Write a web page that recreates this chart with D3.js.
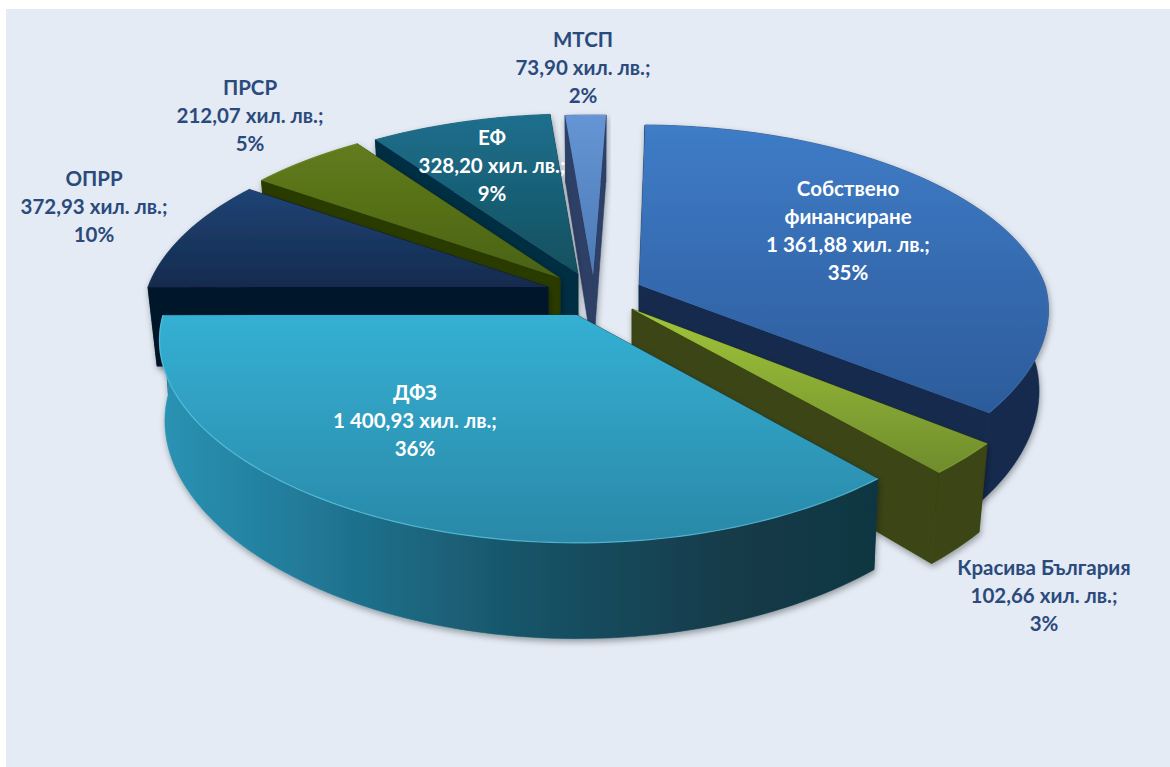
<!DOCTYPE html>
<html><head><meta charset="utf-8">
<script src="https://cdn.jsdelivr.net/npm/d3@7/dist/d3.min.js"></script>
<style>html,body{margin:0;padding:0;background:#fff}svg{display:block}</style>
</head><body><svg id="c" width="1170" height="767"></svg>
<script>
// --- data ---
const categories = ["Собствено финансиране","Красива България","ДФЗ","ОПРР","ПРСР","ЕФ","МТСП"];
const values = [1361.88,102.66,1400.93,372.93,212.07,328.20,73.90];
const percents = [35,3,36,10,5,9,2];

// --- layout / styling (separate from data) ---
const W=1170,H=767;
const labelLines = [["Собствено","финансиране"],["Красива България"],["ДФЗ"],["ОПРР"],["ПРСР"],["ЕФ"],["МТСП"]];
const labelX = [848,1044,415,94,250,492,583];
const labelY = [189,568,393,179,88,138,40];
const labelColor = ["#fff","#2b4a7c","#fff","#2b4a7c","#2b4a7c","#fff","#2b4a7c"];
const apexX = [639,632,577,548,560,578,593];
const apexY = [285,309,315,287,278,274,275];
const radiusX = [406,422,414,400,400,400,400];
const taper = [.977,.977,.987,.977,.977,.977,.977];
const startNudge = [-1.2,0,0,0,0,0,0];
const endNudge = [-2,0,0,0,0,0,0];
const topFrom = ["#3f7cc7","#a0c53a","#34b0d3","#204375","#617c1c","#1f6f8e","#6595d4"];
const topTo   = ["#2c5b9b","#6f8c2c","#2a88a8","#132b4e","#4a6213","#11505e","#4c7ab6"];
const wallCol = ["#122a4e","#3a4512","#123846","#06162a","#2c3a06","#042e42","#2d3f66"];
const rimCol  = ["#4f8bd2","#b5d654","#5fcae6","#2f5488","#7d9a2c","#2f86a6","#8ab0e0"];
const rimOpacity = [.3,.3,.7,.3,.5,.3,.3];
const drawOrder = [6,5,4,3,0,1,2];
const RY=188, P=0.175, PX_BACK=0.175, PX_FRONT=0.13, DEPTH=79;

const rad=d3.scaleLinear().domain([0,360]).range([0,2*Math.PI]);
const arcs=d3.pie().sort(null).value(d=>d).startAngle(rad(2.2)).endAngle(rad(362.2))(values);

// perspective projection of a disc onto the screen
function proj(i,theta,r,bottom){
  const u=Math.sin(theta)*r, v=-Math.cos(theta)*r, f=1/(1-P*v);
  const fx=1/(1-(v<0?PX_BACK:PX_FRONT)*v);
  const k=bottom?taper[i]:1;
  return [apexX[i]+radiusX[i]*u*fx*k, apexY[i]+(RY*v+(bottom?DEPTH:0))*f];
}
const line=d3.line();
const svg=d3.select("#c");
svg.append("rect").attr("x",6).attr("y",9).attr("width",W-6).attr("height",H-9).attr("fill","#e4ebf4");

const defs=svg.append("defs");
const fl=defs.append("filter").attr("id","sh").attr("x","-10%").attr("y","-10%").attr("width","120%").attr("height","125%");
fl.append("feDropShadow").attr("dx",1).attr("dy",3).attr("stdDeviation",3).attr("flood-color","#000").attr("flood-opacity",.35);
arcs.forEach((a,i)=>{
  const g=defs.append("linearGradient").attr("id","t"+i).attr("x1",0).attr("y1",0).attr("x2",0).attr("y2",1);
  g.append("stop").attr("offset",0).attr("stop-color",topFrom[i]);
  g.append("stop").attr("offset",1).attr("stop-color",topTo[i]);
});
const wg=defs.append("linearGradient").attr("id","wDFZ").attr("gradientUnits","userSpaceOnUse")
  .attr("x1",160).attr("y1",0).attr("x2",880).attr("y2",0);
[[0,"#2a93b4"],[.2,"#217a98"],[.5,"#185468"],[.8,"#123a48"],[1,"#113642"]].forEach(s=>
  wg.append("stop").attr("offset",s[0]).attr("stop-color",s[1]));

drawOrder.forEach(i=>{
  const a=arcs[i];
  const g=svg.append("g").attr("filter","url(#sh)");
  const s0=a.startAngle+rad(startNudge[i]), e0=a.endAngle+rad(endNudge[i]);
  const n=Math.max(8,Math.ceil((e0-s0)*40));
  const ts=d3.range(n+1).map(k=>s0+(e0-s0)*k/n);
  const wall=(t)=>[proj(i,t,0,false),proj(i,t,1,false),proj(i,t,1,true),proj(i,t,0,true)];
  const mid=(s0+e0)/2;
  const rs=mid<Math.PI?[s0,e0]:[e0,s0];
  rs.forEach(t=>g.append("path").attr("d",line(wall(t))+"Z").attr("fill",wallCol[i])
    .attr("stroke",wallCol[i]).attr("stroke-width",.6));
  const outer=ts.map(t=>proj(i,t,1,false)).concat(ts.slice().reverse().map(t=>proj(i,t,1,true)));
  const oc=i===2?"url(#wDFZ)":wallCol[i];
  g.append("path").attr("d",line(outer)+"Z").attr("fill",oc).attr("stroke",oc).attr("stroke-width",.6);
  const top=[proj(i,0,0,false)].concat(ts.map(t=>proj(i,t,1,false)));
  g.append("path").attr("d",line(top)+"Z").attr("fill",`url(#t${i})`);
  g.append("path").attr("d",line(ts.map(t=>proj(i,t,1,false)))).attr("fill","none")
    .attr("stroke",rimCol[i]).attr("stroke-opacity",rimOpacity[i]).attr("stroke-width",1.2);
});

const fmt=d3.formatLocale({decimal:",",thousands:"\u00a0",grouping:[3],currency:["",""]}).format(",.2f");
categories.forEach((c,i)=>{
  const lines=labelLines[i].concat([fmt(values[i])+" хил. лв.;",percents[i]+"%"]);
  const t=svg.append("text").attr("text-anchor","middle").attr("font-family","Lato, 'Open Sans', sans-serif")
    .attr("font-weight",700).attr("font-size",20.5).attr("fill",labelColor[i]);
  lines.forEach((s,k)=>t.append("tspan").attr("x",labelX[i]).attr("y",labelY[i]+k*28).attr("dy","0.35em").text(s));
});
</script></body></html>
